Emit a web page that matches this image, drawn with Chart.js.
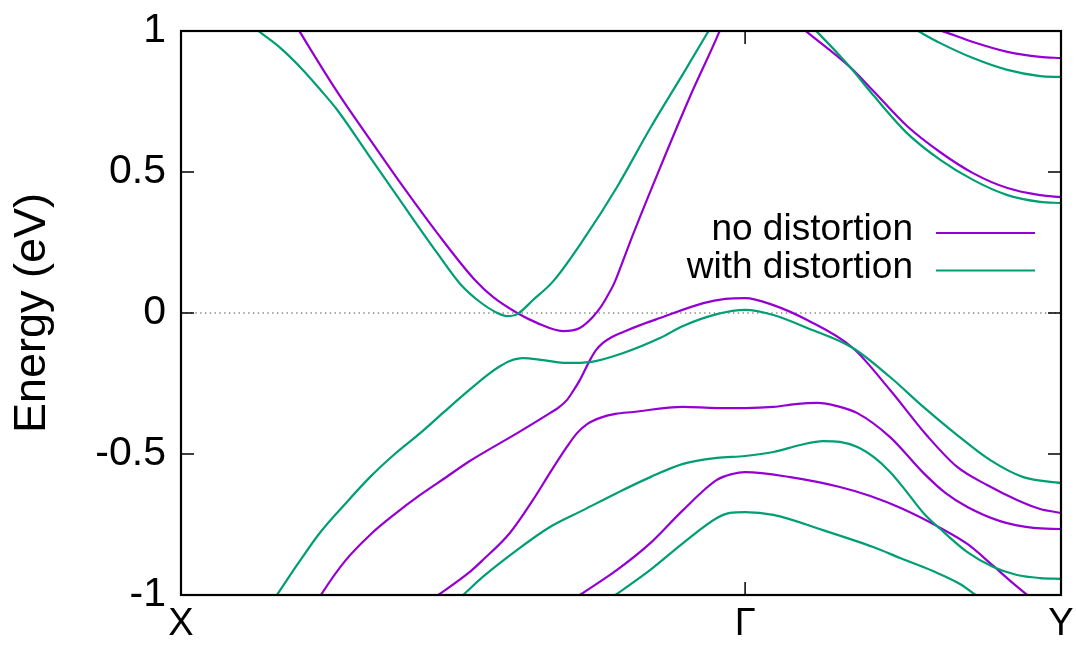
<!DOCTYPE html>
<html>
<head>
<meta charset="utf-8">
<script src="https://cdn.jsdelivr.net/npm/chart.js@4.4.1/dist/chart.umd.min.js"></script>
<style>
  html, body { margin: 0; padding: 0; background: #fff; }
  canvas { display: block; }
</style>
</head>
<body>
<canvas id="bands" width="1076" height="646"></canvas>
<script>
// k-path: X -> Gamma -> Y (Gamma at 1)
const kTicks = [0, 1, 1.56];
const kLabels = ['X', 'Γ', 'Y'];
const energyTicks = [-1, -0.5, 0, 0.5, 1];

const seriesNames = ['no distortion', 'with distortion'];
const seriesColors = ['#9400d3', '#009e73'];

// no distortion bands, [k, E(eV)]
const noDist1 = [[0.193,1.057],[0.211,0.996],[0.277,0.784],[0.348,0.578],[0.394,0.447],[0.454,0.284],[0.521,0.117],
  [0.553,0.057],[0.596,0.0],[0.631,-0.035],[0.677,-0.064],[0.707,-0.053],[0.730,-0.014],[0.743,0.018],
  [0.755,0.057],[0.768,0.106],[0.782,0.177],[0.801,0.277],[0.849,0.514],[0.902,0.766],[0.954,0.996],[0.966,1.057]];
const noDist2 = [[0.225,-1.078],[0.248,-1.0],[0.291,-0.879],[0.335,-0.787],[0.379,-0.713],[0.424,-0.645],[0.468,-0.585],
  [0.512,-0.525],[0.596,-0.426],[0.654,-0.355],[0.668,-0.337],[0.684,-0.309],[0.695,-0.277],[0.707,-0.238],
  [0.725,-0.167],[0.736,-0.131],[0.748,-0.106],[0.764,-0.085],[0.784,-0.067],[0.814,-0.043],[0.849,-0.018],
  [0.926,0.035],[0.965,0.05],[1.0,0.053],[1.05,0.028],[1.11,-0.025],[1.191,-0.124],[1.257,-0.273],
  [1.323,-0.436],[1.376,-0.546],[1.429,-0.61],[1.482,-0.663],[1.523,-0.695],[1.56,-0.709]];
const noDist3 = [[0.413,-1.06],[0.456,-1.0],[0.512,-0.918],[0.535,-0.876],[0.583,-0.78],[0.624,-0.663],[0.654,-0.567],
  [0.684,-0.475],[0.702,-0.426],[0.720,-0.394],[0.743,-0.372],[0.770,-0.358],[0.801,-0.351],[0.890,-0.333],
  [0.950,-0.337],[1.0,-0.337],[1.05,-0.333],[1.089,-0.323],[1.128,-0.319],[1.163,-0.33],[1.199,-0.355],
  [1.257,-0.44],[1.316,-0.567],[1.355,-0.638],[1.394,-0.688],[1.452,-0.738],[1.511,-0.762],[1.56,-0.766]];
const noDist4 = [[0.663,-1.06],[0.707,-1.0],[0.773,-0.911],[0.832,-0.816],[0.890,-0.699],[0.950,-0.592],[0.977,-0.571],
  [1.0,-0.564],[1.08,-0.582],[1.168,-0.617],[1.222,-0.649],[1.275,-0.691],[1.346,-0.762],[1.394,-0.819],
  [1.44,-0.897],[1.47,-0.95],[1.511,-1.018],[1.541,-1.067]];
const noDist5 = [[1.08,1.046],[1.11,0.996],[1.186,0.872],[1.227,0.788],[1.287,0.663],[1.346,0.57],[1.404,0.496],
  [1.465,0.443],[1.523,0.418],[1.56,0.411]];
const noDist6 = [[1.301,1.032],[1.355,0.996],[1.404,0.961],[1.465,0.926],[1.523,0.908],[1.56,0.904]];

// with distortion bands, [k, E(eV)]
const withDist1 = [[0.113,1.039],[0.140,0.996],[0.176,0.94],[0.216,0.862],[0.246,0.794],[0.277,0.72],[0.335,0.553],
  [0.394,0.383],[0.454,0.213],[0.495,0.103],[0.530,0.039],[0.557,0.004],[0.578,-0.011],[0.596,-0.004],
  [0.624,0.046],[0.660,0.113],[0.713,0.259],[0.773,0.447],[0.832,0.656],[0.890,0.848],[0.934,0.996],[0.952,1.057]];
const withDist2 = [[0.149,-1.06],[0.170,-1.0],[0.207,-0.89],[0.246,-0.78],[0.291,-0.677],[0.335,-0.582],[0.379,-0.5],
  [0.424,-0.426],[0.468,-0.348],[0.507,-0.28],[0.543,-0.22],[0.566,-0.188],[0.583,-0.17],[0.606,-0.16],
  [0.642,-0.167],[0.684,-0.177],[0.725,-0.174],[0.784,-0.142],[0.849,-0.089],[0.890,-0.046],[0.950,-0.004],
  [1.0,0.011],[1.05,-0.007],[1.11,-0.053],[1.191,-0.124],[1.257,-0.227],[1.316,-0.333],[1.376,-0.433],
  [1.434,-0.521],[1.493,-0.582],[1.56,-0.603]];
const withDist3 = [[0.466,-1.06],[0.500,-1.0],[0.535,-0.936],[0.596,-0.84],[0.654,-0.759],[0.713,-0.699],[0.773,-0.638],
  [0.832,-0.582],[0.890,-0.535],[0.950,-0.514],[1.0,-0.507],[1.05,-0.493],[1.098,-0.468],[1.138,-0.454],
  [1.168,-0.457],[1.199,-0.475],[1.23,-0.514],[1.257,-0.564],[1.284,-0.628],[1.316,-0.709],[1.346,-0.766],
  [1.394,-0.848],[1.44,-0.901],[1.482,-0.929],[1.523,-0.94],[1.56,-0.943]];
const withDist4 = [[0.727,-1.06],[0.770,-1.0],[0.832,-0.911],[0.890,-0.816],[0.950,-0.727],[0.973,-0.709],[1.0,-0.706],
  [1.05,-0.716],[1.138,-0.77],[1.227,-0.83],[1.275,-0.869],[1.333,-0.915],[1.381,-0.961],[1.413,-1.007],
  [1.434,-1.039]];
const withDist5 = [[1.099,1.05],[1.128,0.996],[1.186,0.872],[1.227,0.773],[1.287,0.638],[1.346,0.543],[1.404,0.472],
  [1.465,0.418],[1.523,0.394],[1.56,0.39]];
const withDist6 = [[1.266,1.046],[1.310,0.996],[1.346,0.957],[1.404,0.904],[1.465,0.862],[1.523,0.84],[1.56,0.837]];

const noDistBands = [noDist1, noDist2, noDist3, noDist4, noDist5, noDist6];
const withDistBands = [withDist1, withDist2, withDist3, withDist4, withDist5, withDist6];

const FONT = 'Liberation Sans, Arial, Helvetica, sans-serif';
Chart.defaults.font.family = FONT;
Chart.defaults.color = '#000';

function bandDataset(band, series) {
    return {
        label: seriesNames[series],
        data: band.map(([k, e]) => ({ x: k, y: e })),
        borderColor: seriesColors[series],
        borderWidth: 2.2,
        pointRadius: 0,
        fill: false,
        cubicInterpolationMode: 'monotone',
        order: series === 0 ? 2 : 1
    };
}

const datasets = [
    ...noDistBands.map(b => bandDataset(b, 0)),
    ...withDistBands.map(b => bandDataset(b, 1))
];

// frame, inward ticks, dotted zero line and gnuplot style key
const gnuplotFrame = {
    id: 'gnuplotFrame',
    beforeDatasetsDraw(chart) {
        const { ctx, chartArea: a, scales: { y } } = chart;
        const y0 = y.getPixelForValue(0);
        ctx.save();
        ctx.strokeStyle = '#808080';
        ctx.lineWidth = 1.3;
        ctx.setLineDash([1.3, 3.5]);
        ctx.beginPath();
        ctx.moveTo(a.left, y0);
        ctx.lineTo(a.right, y0);
        ctx.stroke();
        ctx.restore();
    },
    afterDatasetsDraw(chart) {
        const { ctx, chartArea: a, scales: { x, y } } = chart;
        const tick = 13;
        ctx.save();
        ctx.strokeStyle = '#000';
        ctx.lineWidth = 1.5;
        ctx.beginPath();
        energyTicks.forEach(v => {
            const py = y.getPixelForValue(v);
            ctx.moveTo(a.left, py); ctx.lineTo(a.left + tick, py);
            ctx.moveTo(a.right, py); ctx.lineTo(a.right - tick, py);
        });
        kTicks.forEach(v => {
            const px = x.getPixelForValue(v);
            ctx.moveTo(px, a.bottom); ctx.lineTo(px, a.bottom - tick);
            ctx.moveTo(px, a.top); ctx.lineTo(px, a.top + tick);
        });
        ctx.stroke();
        ctx.lineWidth = 2.2;
        ctx.strokeRect(a.left, a.top, a.right - a.left, a.bottom - a.top);

        // key
        ctx.font = '37px ' + FONT;
        ctx.textAlign = 'right';
        ctx.textBaseline = 'alphabetic';
        seriesNames.forEach((name, i) => {
            const base = 240 + i * 37.5;
            ctx.fillStyle = '#000';
            ctx.fillText(name, 913, base);
            ctx.strokeStyle = seriesColors[i];
            ctx.lineWidth = 2;
            ctx.beginPath();
            ctx.moveTo(936, base - 7);
            ctx.lineTo(1035, base - 7);
            ctx.stroke();
        });
        ctx.restore();
    }
};

new Chart(document.getElementById('bands'), {
    type: 'line',
    data: { datasets },
    options: {
        responsive: false,
        devicePixelRatio: 1,
        animation: false,
        layout: { padding: { top: 31, right: 15, left: 0, bottom: 0 } },
        plugins: {
            legend: { display: false },
            tooltip: { enabled: false }
        },
        scales: {
            x: {
                type: 'linear',
                min: kTicks[0],
                max: kTicks[kTicks.length - 1],
                grid: { display: false, drawTicks: false },
                border: { display: false },
                afterBuildTicks: (scale) => { scale.ticks = kTicks.map(v => ({ value: v })); },
                afterFit: (scale) => {
                    scale.height = 51;
                    scale.paddingLeft = 0;
                    scale.paddingRight = 0;
                },
                ticks: {
                    autoSkip: false,
                    maxRotation: 0,
                    padding: 7,
                    font: { size: 38 },
                    callback: (value, index) => kLabels[index]
                }
            },
            y: {
                type: 'linear',
                min: -1,
                max: 1,
                grid: { display: false, drawTicks: false },
                border: { display: false },
                afterBuildTicks: (scale) => { scale.ticks = energyTicks.map(v => ({ value: v })); },
                afterFit: (scale) => {
                    scale.width = 181;
                    scale.paddingTop = 0;
                    scale.paddingBottom = 0;
                },
                ticks: {
                    padding: 15,
                    font: { size: 41 },
                    callback: (value) => String(value)
                },
                title: {
                    display: true,
                    text: 'Energy (eV)',
                    font: { size: 45 },
                    padding: { top: 6, bottom: 0 }
                }
            }
        }
    },
    plugins: [gnuplotFrame]
});
</script>
</body>
</html>
